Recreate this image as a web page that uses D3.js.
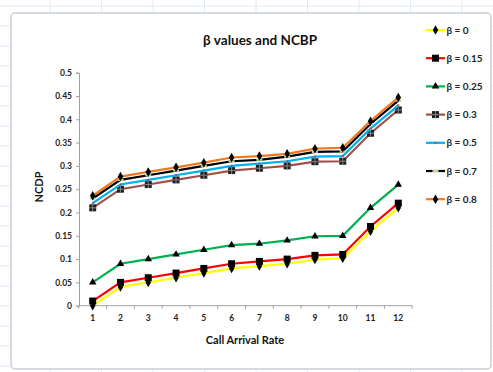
<!DOCTYPE html>
<html><head><meta charset="utf-8">
<script src="https://cdn.jsdelivr.net/npm/d3@7"></script>
<style>html,body{margin:0;padding:0;background:#fff;}svg{display:block;}</style>
</head><body>
<svg id="c" width="493" height="372"></svg>
<script>
const categories = [1,2,3,4,5,6,7,8,9,10,11,12];
const beta0   = [0, 0.04, 0.05, 0.06, 0.07, 0.08, 0.085, 0.09, 0.099, 0.102, 0.16, 0.21];
const beta015 = [0.01, 0.05, 0.06, 0.07, 0.08, 0.09, 0.095, 0.1, 0.108, 0.11, 0.17, 0.22];
const beta025 = [0.05, 0.09, 0.1, 0.11, 0.12, 0.13, 0.133, 0.14, 0.149, 0.15, 0.21, 0.26];
const beta03  = [0.21, 0.25, 0.26, 0.27, 0.28, 0.29, 0.295, 0.3, 0.309, 0.31, 0.37, 0.42];
const beta05  = [0.22, 0.26, 0.27, 0.28, 0.29, 0.3, 0.305, 0.31, 0.32, 0.321, 0.38, 0.43];
const beta07  = [0.23, 0.27, 0.28, 0.29, 0.3, 0.31, 0.313, 0.32, 0.33, 0.331, 0.39, 0.44];
const beta08  = [0.236, 0.277, 0.287, 0.297, 0.307, 0.318, 0.321, 0.326, 0.337, 0.339, 0.396, 0.447];
const yTicks = [0,0.05,0.1,0.15,0.2,0.25,0.3,0.35,0.4,0.45,0.5];
const seriesNames = ["β = 0","β = 0.15","β = 0.25","β = 0.3","β = 0.5","β = 0.7","β = 0.8"];

const series = [
  {name:seriesNames[0], values:beta0,   color:"#ffff00", marker:"diamond", mcol:"#000"},
  {name:seriesNames[1], values:beta015, color:"#ff0000", marker:"square", mcol:"#000"},
  {name:seriesNames[2], values:beta025, color:"#00b050", marker:"triangle", mcol:"#000"},
  {name:seriesNames[3], values:beta03,  color:"#a0504a", marker:"xsquare", mcol:"#333"},
  {name:seriesNames[4], values:beta05,  color:"#00b0f0", marker:"dot", mcol:"#a05050"},
  {name:seriesNames[5], values:beta07,  color:"#000000", marker:"dash", mcol:"#b8d890"},
  {name:seriesNames[6], values:beta08,  color:"#f07820", marker:"diamond", mcol:"#000"}
];

const svg = d3.select("#c");
const font = "Lato, 'Open Sans', sans-serif";

// spreadsheet background
const bg = svg.append("g");
for (let x = 50; x < 493; x += 51.5) bg.append("line").attr("x1",x).attr("x2",x).attr("y1",0).attr("y2",372).attr("stroke","#e3e9f0");
for (let y = 6; y < 372; y += 20) bg.append("line").attr("x1",0).attr("x2",493).attr("y1",y).attr("y2",y).attr("stroke","#e3e9f0");
svg.append("rect").attr("x",11).attr("y",13).attr("width",480).attr("height",356).attr("rx",4)
  .attr("fill","#fff").attr("stroke","#c8d0d8").attr("stroke-width",1.5);

const x = d3.scalePoint().domain(categories).range([92.7, 398.3]);
const step = x.step();
const y = d3.scaleLinear().domain([0,0.5]).range([305.7, 72.7]);

// y axis
const yAxis = d3.axisLeft(y).tickValues(yTicks).tickSize(3).tickFormat(d => String(+d.toFixed(2)));
const gy = svg.append("g").attr("transform","translate(79,0)").call(yAxis);
gy.select(".domain").attr("stroke","#a0a0a0");
gy.selectAll(".tick line").attr("stroke","#a0a0a0");
gy.selectAll("text").attr("font-family",font).attr("font-size",8.5).attr("font-weight","bold").attr("fill","#222").attr("x",-7);

// x axis
const gx = svg.append("g").attr("transform","translate(0,305.7)");
gx.append("line").attr("x1",79).attr("x2",x(12)+step/2).attr("stroke","#a0a0a0");
const bounds = d3.range(0,13).map(i => x(1) - step/2 + i*step);
gx.selectAll("line.t").data(bounds).join("line").attr("class","t")
  .attr("x1",d=>d).attr("x2",d=>d).attr("y1",0).attr("y2",3).attr("stroke","#a0a0a0");
gx.selectAll("text").data(categories).join("text")
  .attr("x",d=>x(d)).attr("y",15).attr("text-anchor","middle")
  .attr("font-family",font).attr("font-size",8.5).attr("font-weight","bold").attr("fill","#222").text(d=>d);

function drawMarker(g, type, cx, cy, col) {
  if (type === "diamond") {
    g.append("path").attr("d", d3.symbol(d3.symbolDiamond, 26)()).attr("transform",`translate(${cx},${cy})`).attr("fill",col);
  } else if (type === "square") {
    g.append("rect").attr("x",cx-3.5).attr("y",cy-3.5).attr("width",7).attr("height",7).attr("fill",col);
  } else if (type === "triangle") {
    g.append("path").attr("d", d3.symbol(d3.symbolTriangle, 24)()).attr("transform",`translate(${cx},${cy})`).attr("fill",col);
  } else if (type === "xsquare") {
    g.append("rect").attr("x",cx-3.5).attr("y",cy-3.5).attr("width",7).attr("height",7).attr("fill","#222");
    g.append("path").attr("d",`M${cx-3.5},${cy}H${cx+3.5}M${cx},${cy-3.5}V${cy+3.5}`).attr("stroke","#999").attr("stroke-width",0.8);
  } else if (type === "dot") {
    g.append("circle").attr("cx",cx).attr("cy",cy).attr("r",1).attr("fill",col);
  } else if (type === "dash") {
    g.append("line").attr("x1",cx-3).attr("x2",cx+3).attr("y1",cy).attr("y2",cy).attr("stroke",col).attr("stroke-width",2);
  }
}

const line = d3.line().x((d,i)=>x(categories[i])).y(d=>y(d));
const plot = svg.append("g");
series.forEach(s => {
  plot.append("path").attr("d", line(s.values)).attr("fill","none").attr("stroke",s.color).attr("stroke-width",2.2);
  s.values.forEach((v,i) => drawMarker(plot, s.marker, x(categories[i]), y(v), s.mcol));
});

// title and axis labels
svg.append("text").attr("x",260).attr("y",45).attr("text-anchor","middle").attr("font-family",font)
  .attr("font-size",13.5).attr("font-weight","bold").attr("fill","#111").text("β values and NCBP");
svg.append("text").attr("x",245).attr("y",344).attr("text-anchor","middle").attr("font-family",font)
  .attr("font-size",11).attr("font-weight","bold").attr("fill","#111").text("Call Arrival Rate");
svg.append("text").attr("transform","translate(43,187) rotate(-90)").attr("text-anchor","middle").attr("font-family",font)
  .attr("font-size",11).attr("font-weight","bold").attr("fill","#111").text("NCDP");

// legend
const lg = svg.append("g");
series.forEach((s,i) => {
  const ly = 30 + i*28.2;
  lg.append("line").attr("x1",426).attr("x2",445).attr("y1",ly).attr("y2",ly).attr("stroke",s.color).attr("stroke-width",2.2);
  drawMarker(lg, s.marker, 435.5, ly, s.mcol);
  lg.append("text").attr("x",446.5).attr("y",ly+3.5).attr("font-family",font).attr("font-size",10).attr("font-weight","bold").attr("fill","#222").text(s.name);
});
</script>
</body></html>
